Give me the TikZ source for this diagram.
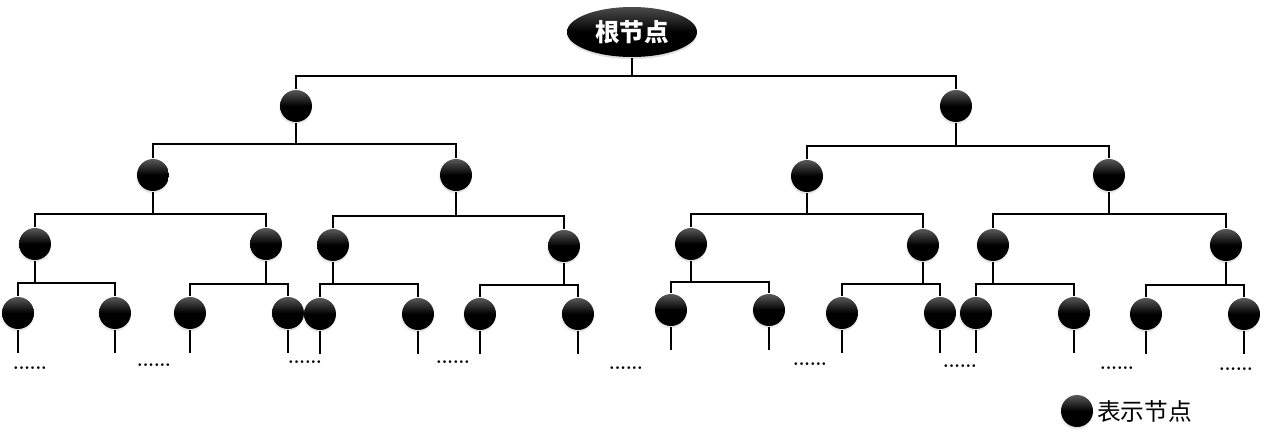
\documentclass[tikz,border=0pt]{standalone}
\usepackage{fontspec}
\newfontfamily\cjk{Noto Sans CJK SC}
\usepackage{tikz}
\usetikzlibrary{shapes.geometric,shadows}

\newcommand\branch[4]{%
  \draw (#1) -- (#1 |- 0,#4);
  \draw (#2) -- (#2 |- 0,#4) -- (#3 |- 0,#4) -- (#3);}

\begin{document}
\begin{tikzpicture}[x=0.02cm,y=-0.02cm,line width=1.3pt,
    nd/.style={circle,minimum size=0.64cm,inner sep=0pt,top color=black!65,bottom color=black,middle color=black,
      circular drop shadow={opacity=0.25,shadow xshift=-0.4pt,shadow yshift=-0.8pt,shadow scale=1.08}},
    dots/.style={font=\normalsize\bfseries,inner sep=0pt}]
  \useasboundingbox (0,0) rectangle (1264,435);
  \node[ellipse,minimum width=2.6cm,minimum height=1cm,inner sep=0pt,top color=black!70,bottom color=black,middle color=black,
    drop shadow={opacity=0.25,shadow xshift=0pt,shadow yshift=-1.2pt},text=white,font=\cjk\bfseries\fontsize{14}{16}\selectfont](r)at(632,32){根节点};
  \node[nd](a)at(296,106){};
  \node[nd](b)at(956,106){};
  \node[nd](aa)at(153,175){};
  \node[nd](ab)at(456,175){};
  \node[nd](ba)at(807,176){};
  \node[nd](bb)at(1109,175){};
  \node[nd](aaa)at(35,244){};
  \node[nd](aab)at(266,244){};
  \node[nd](aba)at(333,245){};
  \node[nd](abb)at(564,246){};
  \node[nd](baa)at(691,244){};
  \node[nd](bab)at(923,245){};
  \node[nd](bba)at(993,245){};
  \node[nd](bbb)at(1226,245){};
  \node[nd](aaaa)at(18,313){};
  \node[nd](aaab)at(115,313){};
  \node[nd](aaba)at(190,313){};
  \node[nd](aabb)at(288,313){};
  \node[nd](abaa)at(320,314){};
  \node[nd](abab)at(418,314){};
  \node[nd](abba)at(480,314){};
  \node[nd](abbb)at(578,314){};
  \node[nd](baaa)at(671,310){};
  \node[nd](baab)at(769,310){};
  \node[nd](baba)at(842,313){};
  \node[nd](babb)at(940,313){};
  \node[nd](bbaa)at(976,313){};
  \node[nd](bbab)at(1074,313){};
  \node[nd](bbba)at(1146,314){};
  \node[nd](bbbb)at(1244,314){};
  \branch{r}{a}{b}{76}
  \branch{a}{aa}{ab}{144}
  \branch{b}{ba}{bb}{146}
  \branch{aa}{aaa}{aab}{214}
  \branch{ab}{aba}{abb}{216}
  \branch{ba}{baa}{bab}{214}
  \branch{bb}{bba}{bbb}{214}
  \branch{aaa}{aaaa}{aaab}{283}
  \branch{aab}{aaba}{aabb}{284}
  \branch{aba}{abaa}{abab}{284}
  \branch{abb}{abba}{abbb}{285}
  \branch{baa}{baaa}{baab}{282}
  \branch{bab}{baba}{babb}{284}
  \branch{bba}{bbaa}{bbab}{284}
  \branch{bbb}{bbba}{bbbb}{285}
  \foreach \n in {aaaa,aaab,aaba,aabb,abaa,abab,abba,abbb,baaa,baab,baba,babb,bbaa,bbab,bbba,bbbb}
    \draw (\n.south) -- ++(0,23);
  \node[dots](d1)at(30,368){......};
  \node[dots](d2)at(154,365){......};
  \node[dots](d3)at(305,362){......};
  \node[dots](d4)at(453,362){......};
  \node[dots](d5)at(626,368){......};
  \node[dots](d6)at(810,364){......};
  \node[dots](d7)at(960,366){......};
  \node[dots](d8)at(1117,368){......};
  \node[dots](d9)at(1236,369){......};
  \node[nd](key)at(1077,411){};
  \node[right=0pt,inner sep=1pt,font=\cjk\fontsize{13.5}{15}\selectfont](keytext)at(key.east){表示节点};
\end{tikzpicture}
\end{document}
